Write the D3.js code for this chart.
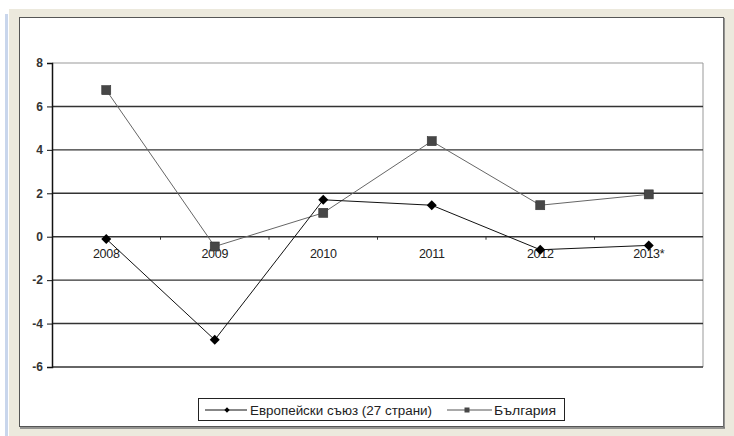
<!DOCTYPE html>
<html>
<head>
<meta charset="utf-8">
<script src="https://cdn.jsdelivr.net/npm/d3@7"></script>
<style>
  body { margin: 0; background: #fff; }
  svg { display: block; font-family: "Liberation Sans", Arial, sans-serif; }
</style>
</head>
<body>
<svg id="chart"></svg>
<script>
// chart values
const years = ['2008', '2009', '2010', '2011', '2012', '2013*'];
const euValues = [-0.1, -4.75, 1.7, 1.45, -0.6, -0.4];
const bgValues = [6.75, -0.45, 1.1, 4.4, 1.45, 1.95];
const yTicks = [-6, -4, -2, 0, 2, 4, 6, 8];
const seriesNames = ['Европейски съюз (27 страни)', 'България'];

const W = 734, H = 436;
const svg = d3.select('#chart').attr('width', W).attr('height', H);

// beige frame, blue shadow, white chart box
svg.append('rect').attr('x', 9).attr('y', 9).attr('width', W - 9).attr('height', H - 9).attr('fill', '#ece9dd');
svg.append('rect').attr('x', 5).attr('y', 14).attr('width', 3).attr('height', H - 14).attr('fill', '#c9d6ec');
svg.append('rect').attr('x', 19.5).attr('y', 17.5).attr('width', 704).attr('height', 409)
    .attr('fill', '#fff').attr('stroke', '#555').attr('stroke-width', 1);
svg.append('line').attr('x1', 724).attr('x2', 724).attr('y1', 18).attr('y2', 428).attr('stroke', '#777').attr('stroke-width', 1.5);
svg.append('line').attr('x1', 20).attr('x2', 725).attr('y1', 428).attr('y2', 428).attr('stroke', '#777').attr('stroke-width', 1.5);

const pLeft = 52, pRight = 703, pTop = 63, pBottom = 367;

const x = d3.scalePoint().domain(years).range([pLeft, pRight]).padding(0.5);
const y = d3.scaleLinear().domain([-6, 8]).range([pBottom, pTop]);
const step = x.step();

// plot border (top & right, gray)
svg.append('line').attr('x1', pLeft).attr('x2', pRight).attr('y1', pTop).attr('y2', pTop).attr('stroke', '#999');
svg.append('line').attr('x1', pRight).attr('x2', pRight).attr('y1', pTop).attr('y2', pBottom).attr('stroke', '#999');

// gridlines
svg.append('g').selectAll('line')
    .data(yTicks.filter(t => t !== 8))
    .enter().append('line')
    .attr('x1', pLeft).attr('x2', pRight)
    .attr('y1', d => y(d)).attr('y2', d => y(d))
    .attr('stroke', '#333').attr('stroke-width', 1.4);

// y axis
const yAxis = svg.append('g').attr('transform', `translate(${pLeft},0)`)
    .call(d3.axisLeft(y).tickValues(yTicks).tickSize(5).tickPadding(4).tickFormat(d => String(d)));
yAxis.select('.domain').attr('stroke', '#111').attr('stroke-width', 1.5);
yAxis.selectAll('.tick line').attr('stroke', '#111');
yAxis.selectAll('text').attr('font-size', 12).attr('font-weight', 'bold').attr('fill', '#333')
    .attr('font-family', '"Liberation Sans", Arial, sans-serif');

// x ticks at category boundaries on the zero line
const bounds = d3.range(1, years.length).map(i => x(years[i]) - step / 2);
svg.append('g').selectAll('line')
    .data(bounds).enter().append('line')
    .attr('x1', d => d).attr('x2', d => d)
    .attr('y1', y(0)).attr('y2', y(0) + 3)
    .attr('stroke', '#333');

// x labels
svg.append('g').selectAll('text')
    .data(years).enter().append('text')
    .attr('x', d => x(d)).attr('y', y(0) + 21)
    .attr('text-anchor', 'middle').attr('font-size', 12.5).attr('fill', '#222')
    .attr('letter-spacing', -0.3)
    .text(d => d);

const line = d3.line().x((d, i) => x(years[i])).y(d => y(d));

// Bulgaria
svg.append('path').datum(bgValues).attr('d', line)
    .attr('fill', 'none').attr('stroke', '#666').attr('stroke-width', 1);
svg.append('g').selectAll('rect')
    .data(bgValues).enter().append('rect')
    .attr('x', (d, i) => x(years[i]) - 4.5).attr('y', d => y(d) - 4.5)
    .attr('width', 9).attr('height', 9)
    .attr('fill', '#474747').attr('stroke', '#333').attr('stroke-width', 0.6);

// EU
svg.append('path').datum(euValues).attr('d', line)
    .attr('fill', 'none').attr('stroke', '#111').attr('stroke-width', 1);
svg.append('g').selectAll('path')
    .data(euValues).enter().append('path')
    .attr('d', d3.symbol().type(d3.symbolSquare).size(50))
    .attr('transform', (d, i) => `translate(${x(years[i])},${y(d)}) rotate(45)`)
    .attr('fill', '#000');

// legend
const lg = svg.append('g');
lg.append('rect').attr('x', 198.5).attr('y', 398.5).attr('width', 366).attr('height', 22)
    .attr('fill', '#fff').attr('stroke', '#222').attr('stroke-width', 1);
const ly = 410;
lg.append('line').attr('x1', 205).attr('x2', 247).attr('y1', ly).attr('y2', ly).attr('stroke', '#111');
lg.append('path').attr('d', d3.symbol().type(d3.symbolSquare).size(14))
    .attr('transform', `translate(227,${ly}) rotate(45)`).attr('fill', '#000');
lg.append('text').attr('x', 250).attr('y', ly + 4.5).attr('font-size', 12).attr('fill', '#222')
    .attr('textLength', 182).attr('lengthAdjust', 'spacingAndGlyphs').text(seriesNames[0]);
lg.append('line').attr('x1', 447).attr('x2', 492).attr('y1', ly).attr('y2', ly).attr('stroke', '#555');
lg.append('rect').attr('x', 464.5).attr('y', ly - 2.5).attr('width', 5).attr('height', 5).attr('fill', '#474747');
lg.append('text').attr('x', 494).attr('y', ly + 4.5).attr('font-size', 12).attr('fill', '#222')
    .attr('textLength', 62).attr('lengthAdjust', 'spacingAndGlyphs').text(seriesNames[1]);
</script>
</body>
</html>
